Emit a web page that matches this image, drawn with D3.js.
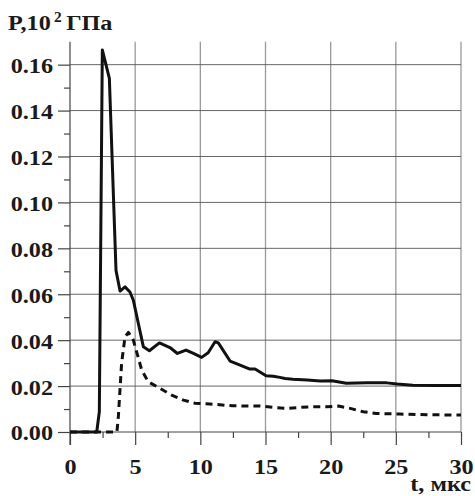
<!DOCTYPE html>
<html>
<head>
<meta charset="utf-8">
<script src="https://cdn.jsdelivr.net/npm/d3@7"></script>
<style>
  html, body { margin: 0; padding: 0; background: #fff; }
  svg { display: block; }
  text { font-family: "Liberation Serif", "Times New Roman", serif; font-weight: bold; fill: #1a1a1a; }
</style>
</head>
<body>
<svg id="chart" width="475" height="496"></svg>
<script>
// Solid curve (t, мкс ; P, 10^2 ГПа)
const solidT = [0, 2.05, 2.25, 2.48, 3.02, 3.53, 3.84, 4.22, 4.6, 4.86, 5.63, 6.09, 6.86, 7.67, 8.24, 8.9, 9.47, 10.1, 10.6, 11.13, 11.38, 12.28, 13.05, 13.8, 14.2, 15.04, 15.6, 16.1, 16.5, 17.1, 18.2, 19.2, 20.1, 21.2, 22.8, 24.3, 25.1, 26.3, 28.0, 30.0];
const solidP = [0, 0, 0.0088, 0.1664, 0.154, 0.0704, 0.0614, 0.0632, 0.061, 0.0574, 0.0371, 0.0354, 0.0388, 0.0368, 0.0342, 0.0357, 0.0342, 0.0325, 0.0345, 0.0393, 0.0388, 0.0309, 0.0291, 0.0274, 0.0274, 0.0245, 0.0243, 0.0238, 0.0233, 0.023, 0.0226, 0.0222, 0.0223, 0.0212, 0.0214, 0.0214, 0.0209, 0.0204, 0.0203, 0.0203];
// Dashed curve
const dashT = [0, 3.6, 3.71, 3.96, 4.22, 4.48, 4.86, 5.5, 6.0, 6.9, 7.8, 8.7, 9.6, 10.74, 12.5, 14.6, 15.6, 16.6, 17.65, 18.55, 19.7, 20.6, 21.5, 22.5, 23.5, 25.3, 27.4, 30.0];
const dashP = [0, 0, 0.0067, 0.03, 0.0414, 0.0434, 0.04, 0.027, 0.0219, 0.019, 0.0161, 0.0139, 0.0125, 0.0122, 0.0114, 0.0113, 0.0107, 0.0103, 0.0107, 0.011, 0.011, 0.0113, 0.0103, 0.0088, 0.0081, 0.0078, 0.0075, 0.0074];

const xTicks = [0, 5, 10, 15, 20, 25, 30];
const xMinor = [2.5, 7.5, 12.5, 17.5, 22.5, 27.5];
const yTicks = [0, 0.02, 0.04, 0.06, 0.08, 0.10, 0.12, 0.14, 0.16];
const yMinor = [0.01, 0.03, 0.05, 0.07, 0.09, 0.11, 0.13, 0.15];

const svg = d3.select("#chart");
const x = d3.scaleLinear().domain([0, 30]).range([70, 461]);
const y = d3.scaleLinear().domain([0, 0.17]).range([432, 41.7]);
const FS = 22;
const STRETCH = 1.1;

function widen(sel) {
  sel.each(function () {
    const w = this.getComputedTextLength();
    d3.select(this).attr("textLength", w * STRETCH).attr("lengthAdjust", "spacingAndGlyphs");
  });
}

// grid
svg.append("g").selectAll("line").data(xTicks.slice(1)).join("line")
  .attr("x1", d => x(d)).attr("x2", d => x(d))
  .attr("y1", y(0)).attr("y2", y(0.17))
  .attr("stroke", "#9a9a9a").attr("stroke-width", 1.3);
svg.append("g").selectAll("line").data(yTicks.slice(1)).join("line")
  .attr("x1", x(0)).attr("x2", x(30))
  .attr("y1", d => y(d)).attr("y2", d => y(d))
  .attr("stroke", "#555").attr("stroke-width", 0.9);

// axes
const xAxis = d3.axisBottom(x).tickValues(xTicks).tickSize(13).tickFormat(d3.format("d"));
const gx = svg.append("g").attr("transform", `translate(0,${y(0)})`).call(xAxis);
gx.select(".domain").attr("stroke", "#444").attr("stroke-width", 1.2).attr("d", `M${x(0)},0H${x(30)}`);
gx.selectAll(".tick line").attr("stroke", "#444").attr("stroke-width", 1.2);
gx.selectAll(".tick text").attr("font-size", FS).attr("font-family", "Liberation Serif, serif").attr("font-weight", "bold").attr("fill", "#1a1a1a").attr("y", 42).attr("dy", 0).call(widen);
const gxm = svg.append("g").attr("transform", `translate(0,${y(0)})`)
  .call(d3.axisBottom(x).tickValues(xMinor).tickSize(6).tickFormat(""));
gxm.select(".domain").remove();
gxm.selectAll(".tick line").attr("stroke", "#444").attr("stroke-width", 1.2);

const yAxis = d3.axisLeft(y).tickValues(yTicks).tickSize(12).tickFormat(d3.format(".2f"));
const gy = svg.append("g").attr("transform", `translate(${x(0)},0)`).call(yAxis);
gy.select(".domain").attr("stroke", "#444").attr("stroke-width", 1.2).attr("d", `M0,${y(0) + 13}V${y(0.17)}`);
gy.selectAll(".tick line").attr("stroke", "#444").attr("stroke-width", 1.2);
gy.selectAll(".tick text").attr("font-size", FS).attr("font-family", "Liberation Serif, serif").attr("font-weight", "bold").attr("fill", "#1a1a1a").attr("x", -17).attr("dy", "0.36em").call(widen);
const gym = svg.append("g").attr("transform", `translate(${x(0)},0)`)
  .call(d3.axisLeft(y).tickValues(yMinor).tickSize(6).tickFormat(""));
gym.select(".domain").remove();
gym.selectAll(".tick line").attr("stroke", "#444").attr("stroke-width", 1.2);

// curves
const line = d3.line().x(d => x(d[0])).y(d => y(d[1])).curve(d3.curveLinear);
svg.append("path").datum(dashT.map((t, i) => [t, dashP[i]]))
  .attr("d", line).attr("fill", "none").attr("stroke", "#111")
  .attr("stroke-width", 3).attr("stroke-dasharray", "7,5").attr("stroke-linejoin", "round");
svg.append("path").datum(solidT.map((t, i) => [t, solidP[i]]))
  .attr("d", line).attr("fill", "none").attr("stroke", "#111")
  .attr("stroke-width", 3).attr("stroke-linejoin", "round");

// titles
const tg = svg.append("g").attr("transform", `translate(8,30) scale(${STRETCH},1)`);
const yt = tg.append("text").attr("x", 0).attr("y", 0).attr("font-size", FS);
yt.append("tspan").text("P,10");
yt.append("tspan").attr("font-size", 14).attr("dy", -8).attr("dx", 3).text("2");
yt.append("tspan").attr("dy", 8).attr("dx", 4).text("ГПа");

svg.append("text").attr("x", 471).attr("y", 491).attr("text-anchor", "end").attr("font-size", FS).text("t, мкс").call(widen);
</script>
</body>
</html>
